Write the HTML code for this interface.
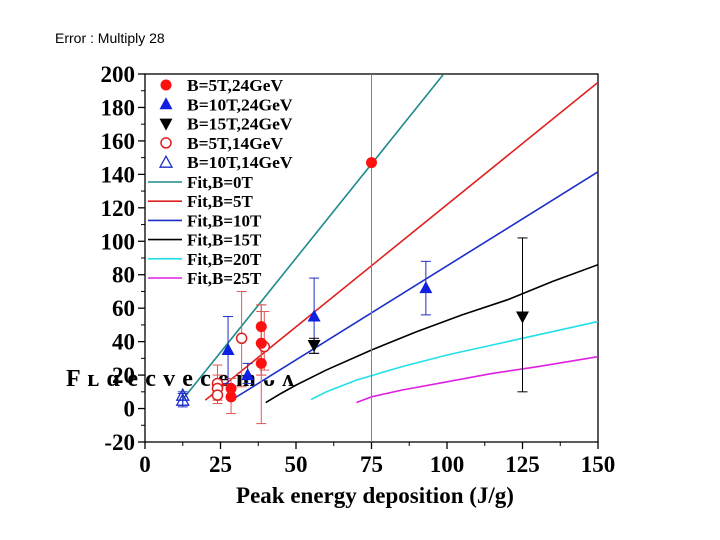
<!DOCTYPE html>
<html><head><meta charset="utf-8"><style>
body{margin:0;background:#fff;width:720px;height:540px;overflow:hidden}
svg{position:absolute;left:0;top:0}
</style></head><body>
<svg id="c" width="720" height="540">
<text x="55" y="43" font-family="Liberation Sans, sans-serif" font-size="14">Error : Multiply 28</text>
</svg>
<script>
const xTicks=[0,25,50,75,100,125,150];
const yTicks=[-20,0,20,40,60,80,100,120,140,160,180,200];
const fitNames=['Fit,B=0T','Fit,B=5T','Fit,B=10T','Fit,B=15T','Fit,B=20T','Fit,B=25T'];
const fitColors=['#1f8a8a','#e02020','#1a2ec8','#000000','#22e0e8','#e020e0'];
const fit0X=[12.3,98.9];const fit0Y=[5,200];
const fit5X=[20,150];const fit5Y=[5,195];
const fit10X=[30,150];const fit10Y=[6.6,141.5];
const fit15X=[40,45,50,60,75,90,105,120,135,150];const fit15Y=[3.6,9,14,23,35,46,56,65,76,86];
const fit20X=[55,60,70,85,100,115,130,150];const fit20Y=[5.4,10,17,25,32,38,44,52];
const fit25X=[70,75,85,100,115,130,150];const fit25Y=[3.6,7,11,16,21,25,31];
const fitX=[fit0X,fit5X,fit10X,fit15X,fit20X,fit25X];
const fitY=[fit0Y,fit5Y,fit10Y,fit15Y,fit20Y,fit25Y];
const r24X=[28.5,28.5,38.5,38.5,38.5,75];const r24Y=[12,7,49,39,27,147];const r24L=[6,-3,20,20,-9,-20];const r24H=[18,13,62,58,62,200];
const b24X=[27.5,34,56,93];const b24Y=[35,20,55,72];const b24L=[15,15,33,56];const b24H=[55,27,78,88];
const k24X=[56,125];const k24Y=[38,55];const k24L=[33,10];const k24H=[42,102];
const r14X=[24,24,24,32,39.5];const r14Y=[15,12,8,42,37];const r14L=[7,5,3,13,23];const r14H=[26,20,13,70,58];
const b14X=[12.5,12.5];const b14Y=[8,5];const b14L=[1,2];const b14H=[10,9];
const legNames=['B=5T,24GeV','B=10T,24GeV','B=15T,24GeV','B=5T,14GeV','B=10T,14GeV'];

const svg=document.getElementById('c');const NS='http://www.w3.org/2000/svg';
const L=145,R=598,T=74,B=442;
const sx=v=>L+(v-0)*(R-L)/150;
const sy=v=>T+(200-v)*(B-T)/220;
function mk(t,a,p){const e=document.createElementNS(NS,t);for(const k in a)e.setAttribute(k,a[k]);(p||svg).appendChild(e);return e;}
const serif='Liberation Serif, serif';
const frame=mk('rect',{x:L,y:T,width:R-L,height:B-T,fill:'none',stroke:'#000','stroke-width':1.3});


xTicks.forEach(v=>{const x=sx(v);
 mk('line',{x1:x,y1:B,x2:x,y2:B+7,stroke:'#000','stroke-width':1.3});
 if(v<150)mk('line',{x1:sx(v+12.5),y1:B,x2:sx(v+12.5),y2:B+4,stroke:'#000'});
 const t=mk('text',{x:x,y:B+30,'text-anchor':'middle','font-family':serif,'font-weight':'bold','font-size':23});t.textContent=v;
 
 });
yTicks.forEach(v=>{const y=sy(v);
 mk('line',{x1:L-7,y1:y,x2:L,y2:y,stroke:'#000','stroke-width':1.3});
 if(v<200)mk('line',{x1:L-4,y1:sy(v+10),x2:L,y2:sy(v+10),stroke:'#000'});
 const t=mk('text',{x:L-10,y:y+8,'text-anchor':'end','font-family':serif,'font-weight':'bold','font-size':23});t.textContent=v;
 
 });
const xl=mk('text',{x:375,y:503,'text-anchor':'middle','font-family':serif,'font-weight':'bold','font-size':23});xl.textContent='Peak energy deposition (J/g)';


const gl=mk('text',{x:66,y:386,'font-family':serif,'font-weight':'bold','font-size':24,textLength:228,lengthAdjust:'spacing'});gl.textContent='F ʟ ɑ e c v e c e m ᴗ ᴧ';


const clip=mk('clipPath',{id:'pc'});mk('rect',{x:L,y:T,width:R-L,height:B-T},clip);
fitX.forEach((xs,i)=>{const d=xs.map((x,j)=>(j?'L':'M')+sx(x)+','+sy(fitY[i][j])).join('');
 const p=mk('path',{d:d,fill:'none',stroke:fitColors[i],'stroke-width':1.6,'stroke-linejoin':'round','clip-path':'url(#pc)'});
 
 });
function err(xs,lo,hi,col){xs.forEach((x,i)=>{const X=sx(x),a=sy(Math.min(hi[i],200)),b=sy(Math.max(lo[i],-20));
 mk('line',{x1:X,y1:a,x2:X,y2:b,stroke:col,'stroke-width':1});
 if(hi[i]<200){mk('line',{x1:X-5,y1:a,x2:X+5,y2:a,stroke:col});mk('line',{x1:X-5,y1:b,x2:X+5,y2:b,stroke:col});}});}
function mark(type,X,Y,col,name){let e;
 if(type=='circ')e=mk('circle',{cx:X,cy:Y,r:5.5,fill:col});
 if(type=='ocirc')e=mk('circle',{cx:X,cy:Y,r:5,fill:'#fff',stroke:col,'stroke-width':1.5});
 if(type=='tri')e=mk('path',{d:`M${X},${Y-7}L${X+6.5},${Y+5}L${X-6.5},${Y+5}Z`,fill:col});
 if(type=='otri')e=mk('path',{d:`M${X},${Y-6}L${X+6},${Y+5}L${X-6},${Y+5}Z`,fill:'none',stroke:col,'stroke-width':1.3});
 if(type=='itri')e=mk('path',{d:`M${X},${Y+7}L${X+6.5},${Y-5}L${X-6.5},${Y-5}Z`,fill:col});
 
 }
err(r24X,r24L,r24H,'#e05858');err(r14X,r14L,r14H,'#e05858');err(b24X,b24L,b24H,'#2030c0');err(k24X,k24L,k24H,'#000');err(b14X,b14L,b14H,'#2030c0');
r14X.forEach((x,i)=>mark('ocirc',sx(x),sy(r14Y[i]),'#e02020','point-5t-14gev'));
b14X.forEach((x,i)=>mark('otri',sx(x),sy(b14Y[i]),'#1a2ec8','point-10t-14gev'));
r24X.forEach((x,i)=>mark('circ',sx(x),sy(r24Y[i]),'#ff1010','point-5t-24gev'));
b24X.forEach((x,i)=>mark('tri',sx(x),sy(b24Y[i]),'#1020e0','point-10t-24gev'));
k24X.forEach((x,i)=>mark('itri',sx(x),sy(k24Y[i]),'#000','point-15t-24gev'));
const types=['circ','tri','itri','ocirc','otri'];const lc=['#ff1010','#1020e0','#000','#e02020','#1a2ec8'];
legNames.forEach((n,i)=>{const y=85+i*19.3;mark(types[i],166,y,lc[i],'legend-marker');
 const t=mk('text',{x:187,y:y+6,'font-family':serif,'font-weight':'bold','font-size':17,textLength:n.length*9.6,lengthAdjust:'spacingAndGlyphs'});t.textContent=n;
 
 });
fitNames.forEach((n,i)=>{const y=182+i*19.2;mk('line',{x1:148,y1:y,x2:182,y2:y,stroke:fitColors[i],'stroke-width':1.6});
 const t=mk('text',{x:187,y:y+6,'font-family':serif,'font-weight':'bold','font-size':17});t.textContent=n;
 
 });
</script>
</body></html>
